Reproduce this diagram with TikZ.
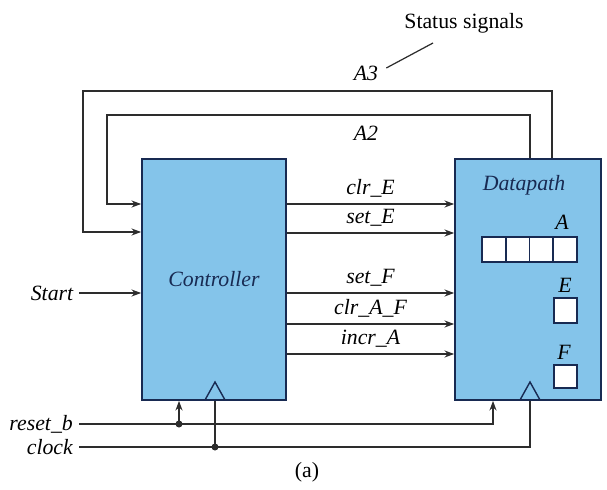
\documentclass[tikz,border=0pt]{standalone}
\usepackage{fontspec}
\setmainfont{Liberation Serif}
\newfontfamily\timesfont{Liberation Serif}
\usetikzlibrary{arrows.meta}
\definecolor{boxblue}{RGB}{132,196,234}
\definecolor{navy}{RGB}{24,42,82}
\definecolor{wirecol}{RGB}{45,45,45}
\begin{document}
\begin{tikzpicture}[x=0.02cm, y=-0.02cm,
    every node/.style={font=\timesfont\fontsize{12.4}{14}\selectfont\itshape},
    upright/.style={font=\timesfont\fontsize{12.4}{14}\selectfont\upshape},
    wire/.style={draw=wirecol, line width=0.8pt},
    sig/.style={wire, -{Stealth[length=5.5pt, width=4pt]}},
    blockbox/.style={draw=navy, line width=1pt, fill=boxblue, minimum height=4.82cm, inner sep=0pt},
    regcell/.style={draw=navy, line width=1pt, fill=white},
    clk/.style={draw=navy, line width=0.8pt}]
    \useasboundingbox (0,0) rectangle (607,489);
    % Blocks
    \node[blockbox, minimum width=2.88cm, text=navy] (ctrl) at (214,279.5) {Controller};
    \node[blockbox, minimum width=2.92cm] (dp) at (528,279.5) {};
    \node[text=navy] (dplbl) at (524,185) {Datapath};
    % Registers A, E, F
    \foreach \i in {0,...,3}
        \draw[regcell] (482+\i*23.75,237) rectangle ++(23.75,25);
    \draw[regcell] (554,298) rectangle (577,323);
    \draw[regcell] (554,365) rectangle (577,388);
    \node (alb) at (562,222) {A};
    \node (elb) at (565,285) {E};
    \node (flb) at (564,352) {F};
    % Clock inputs
    \draw[clk] (205,400) -- (215,382) -- (225,400);
    \draw[clk] (520,400) -- (530,382) -- (540,400);
    % Control signals
    \foreach \y/\lbl in {204/clr\_E, 233/set\_E, 293/set\_F, 324/clr\_A\_F, 354/incr\_A}
        \draw[sig] (ctrl.east |- 0,\y) -- node[above=0pt] {\lbl} (dp.west |- 0,\y);
    % Status signals
    \draw[sig] (dp.north -| 530,0) |- (107,115) |- (ctrl.west |- 0,204);
    \draw[sig] (dp.north -| 552,0) |- (83,91) |- (ctrl.west |- 0,232);
    \node (a2lbl) at (366,133) {A2};
    \node (a3lbl) at (366,73) {A3};
    \node[upright] (status) at (464,23) {Status signals};
    \coordinate (lead) at (433,43);
    \draw[wire, line width=0.7pt] ([shift={(2,-5)}]a3lbl.east) -- (lead);
    % Inputs
    \node (start) at (52,293) {Start};
    \draw[sig] (start.east) -- (ctrl.west |- start);
    \node[anchor=east] (rst) at (79,424) {reset\_b};
    \node[anchor=east] (clock) at (79,447) {clock};
    \draw[sig] (rst.east) -| (dp.south -| 493,0);
    \draw[wire] (clock.east) -| (dp.south -| 530,0);
    \coordinate (rdot) at (179,424);
    \coordinate (cdot) at (215,447);
    \draw[sig] (rdot) -- (ctrl.south -| rdot);
    \draw[wire] (cdot) -- (ctrl.south -| cdot);
    \fill[wirecol] (rdot) circle[radius=3.5];
    \fill[wirecol] (cdot) circle[radius=3.5];
    \node[upright] (cap) at (307,472) {(a)};
\end{tikzpicture}
\end{document}
